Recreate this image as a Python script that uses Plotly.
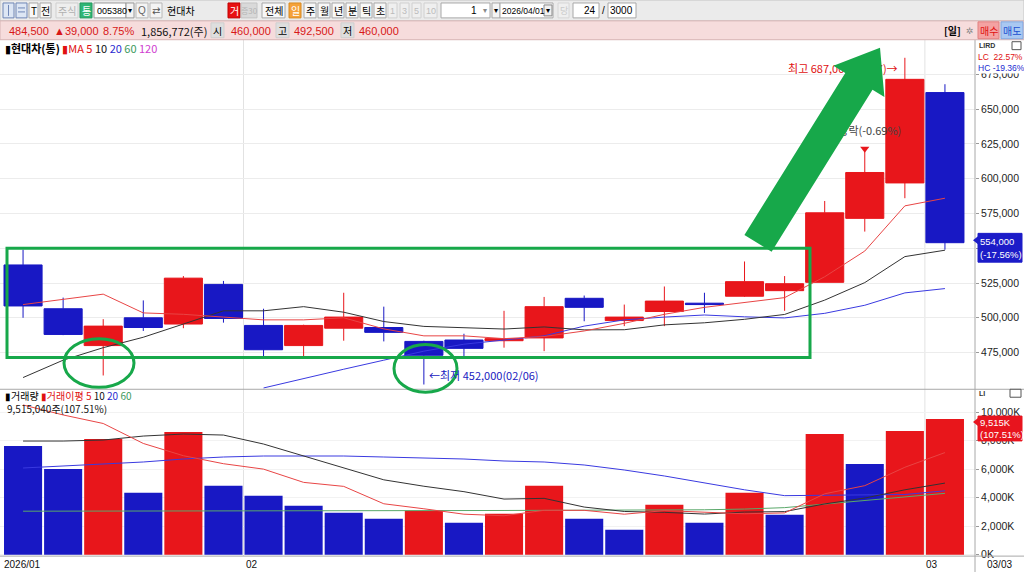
import plotly.graph_objects as go

W, H = 1024, 576
FONT = "Liberation Sans Narrow, Arial Narrow, Liberation Sans, Noto Sans CJK KR, sans-serif"
KFONT = "Noto Sans CJK KR, Liberation Sans, sans-serif"
RED = "#e8161b"
BLUE = "#1818c4"

# ---------------- data ----------------
dates = ["01/23", "01/26", "01/27", "01/28", "01/29", "01/30", "02/02", "02/03", "02/04", "02/05",
         "02/06", "02/09", "02/10", "02/11", "02/12", "02/13", "02/19", "02/20", "02/23", "02/24",
         "02/25", "02/26", "02/27", "03/03"]
opens = [538000, 506500, 480000, 500000, 495500, 524000, 494500, 480000, 492500, 493000,
         483000, 484000, 483500, 485500, 514000, 498000, 504500, 510500, 515500, 519500,
         525500, 571500, 597000, 662000]
highs = [549000, 514500, 499000, 512500, 530000, 526500, 506500, 495000, 518000, 508000,
         483500, 488500, 505000, 515000, 516000, 509500, 522500, 518000, 540500, 530000,
         584000, 621500, 687000, 668000]
lows = [500000, 487500, 458500, 490500, 492500, 496500, 472500, 472500, 483500, 483000,
        452000, 472500, 478500, 476000, 497500, 494000, 494000, 503500, 515000, 505000,
        525500, 562000, 586000, 549000]
closes = [508500, 488000, 494000, 493000, 528500, 499500, 477000, 494500, 500500, 489500,
          473000, 478000, 485000, 508000, 507500, 500500, 512000, 509500, 526000, 524500,
          575500, 604500, 671500, 554000]

ma5 = [509500, 513500, 517000, 503500, 502500, 500500, 498500, 498500, 500000, 492000,
       487000, 487000, 485000, 486500, 490500, 496000, 502500, 507500, 511000, 514500,
       529500, 548000, 580500, 586000]
ma10 = [457000, 469500, 478500, 486000, 495500, 505000, 505000, 508000, 504000, 497300,
        493800, 492800, 491900, 493400, 491300, 491400, 494900, 496400, 498900, 502400,
        512700, 525300, 544000, 548600]
ma20 = [None, None, None, None, None, None, 449500, 456500, 463000, 469500,
        476000, 481000, 484000, 487000, 494000, 498500, 500500, 502000, 500700, 499900,
        503200, 509000, 517900, 521000]

volumes = [7620000, 6010000, 8110000, 4340000, 8600000, 4830000, 4130000, 3430000, 2940000, 2520000,
           3080000, 2240000, 2870000, 4830000, 2520000, 1750000, 3500000, 2240000, 4340000, 2800000,
           8460000, 6360000, 8670000, 9515040]
vol_dir = ["down", "down", "up", "down", "up", "down", "down", "down", "down", "down",
           "up", "down", "up", "up", "down", "down", "up", "down", "up", "down",
           "up", "down", "up", "up"]
vma5 = [10500000, 9800000, 9200000, 7800000, 6940000, 6380000, 6000000, 5070000, 4790000, 3570000,
        3220000, 2840000, 2730000, 3110000, 3110000, 2840000, 3090000, 2970000, 2870000, 2930000,
        4270000, 4840000, 6130000, 7160000]
vma10 = [7970000, 7970000, 8040000, 8320000, 8460000, 8390000, 7760000, 6920000, 6080000, 5250000,
         4800000, 4420000, 3900000, 3950000, 3340000, 3030000, 2970000, 2850000, 2990000, 3020000,
         3560000, 3970000, 4550000, 5020000]
vma20 = [6080000, 6220000, 6360000, 6500000, 6710000, 6850000, 6920000, 6920000, 6920000, 6850000,
         6780000, 6710000, 6570000, 6500000, 6290000, 5940000, 5520000, 5030000, 4550000, 4140000,
         4180000, 4190000, 4220000, 4480000]
vma60 = [3050000, 3050000, 3060000, 3060000, 3070000, 3080000, 3080000, 3090000, 3090000, 3090000,
         3100000, 3100000, 3100000, 3110000, 3110000, 3120000, 3130000, 3150000, 3200000, 3300000,
         3550000, 3800000, 4050000, 4300000]

price_ticks = [475000, 500000, 525000, 550000, 575000, 600000, 625000, 650000, 675000]
price_hidden = [550000]          # label covered by the current-price box
vol_ticks = [0, 2000000, 4000000, 6000000, 8000000, 10000000]

# ---------------- helpers ----------------
def P(x):
    return x / W


def Q(y):
    return 1 - y / H


shapes = []
annots = []


def rect(x0, y0, x1, y1, fill=None, line=None, lw=1, layer="above"):
    shapes.append(dict(type="rect", xref="paper", yref="paper", x0=P(x0), x1=P(x1), y0=Q(y1), y1=Q(y0),
                       fillcolor=fill or "rgba(0,0,0,0)",
                       line=dict(color=line or "rgba(0,0,0,0)", width=lw if line else 0), layer=layer))


def hline(x0, x1, y, color="#b0b0b0", w=1):
    shapes.append(dict(type="line", xref="paper", yref="paper", x0=P(x0), x1=P(x1), y0=Q(y), y1=Q(y),
                       line=dict(color=color, width=w), layer="above"))


def vline(x, y0, y1, color="#b0b0b0", w=1):
    shapes.append(dict(type="line", xref="paper", yref="paper", x0=P(x), x1=P(x), y0=Q(y0), y1=Q(y1),
                       line=dict(color=color, width=w), layer="above"))


def txt(x, y, s, color="#000", size=11, anchor="left", family=FONT, bg=None):
    d = dict(xref="paper", yref="paper", x=P(x), y=Q(y), text=s, showarrow=False, xanchor=anchor,
             yanchor="middle", font=dict(color=color, size=size, family=family), borderpad=0)
    if bg:
        d["bgcolor"] = bg
    annots.append(d)


def poly(pts, fill, layer="above"):
    path = "M " + " L ".join(f"{P(x):.5f},{Q(y):.5f}" for x, y in pts) + " Z"
    shapes.append(dict(type="path", xref="paper", yref="paper", path=path, fillcolor=fill,
                       line=dict(width=0), layer=layer))


# ---------------- traces ----------------
fig = go.Figure()
fig.add_trace(go.Candlestick(
    x=dates, open=opens, high=highs, low=lows, close=closes, xaxis="x", yaxis="y",
    increasing=dict(line=dict(color=RED, width=1), fillcolor=RED),
    decreasing=dict(line=dict(color=BLUE, width=1), fillcolor=BLUE),
    whiskerwidth=0, hoverinfo="skip", showlegend=False))
fig.add_trace(go.Scatter(x=dates, y=ma20, mode="lines", line=dict(color="#3a3ae0", width=1),
                         xaxis="x", yaxis="y", hoverinfo="skip", showlegend=False))
fig.add_trace(go.Scatter(x=dates, y=ma10, mode="lines", line=dict(color="#333333", width=1),
                         xaxis="x", yaxis="y", hoverinfo="skip", showlegend=False))
fig.add_trace(go.Scatter(x=dates, y=ma5, mode="lines", line=dict(color="#e84545", width=1),
                         xaxis="x", yaxis="y", hoverinfo="skip", showlegend=False))

# text marks that sit under the green arrow
fig.add_trace(go.Scatter(x=[dates[22]], y=[highs[22]], mode="markers+text", text=["최고 687,000(02/27)→"],
                         textposition="bottom left",
                         marker=dict(size=10, color="rgba(0,0,0,0)"),
                         textfont=dict(color="#e01010", size=11, family=KFONT),
                         xaxis="x", yaxis="y", hoverinfo="skip", showlegend=False))
fig.add_trace(go.Scatter(x=[dates[21]], y=[highs[21]], mode="markers",
                         marker=dict(symbol="triangle-down", size=8, color=RED),
                         xaxis="x", yaxis="y", hoverinfo="skip", showlegend=False))
fig.add_trace(go.Scatter(x=[dates[21]], y=[highs[21]], mode="markers+text", text=["배당락(-0.69%)"],
                         textposition="top center",
                         marker=dict(size=16, color="rgba(0,0,0,0)"),
                         textfont=dict(color="#444", size=11, family=KFONT),
                         xaxis="x", yaxis="y", hoverinfo="skip", showlegend=False))

fig.add_trace(go.Bar(x=dates, y=volumes, width=0.95,
                     marker=dict(color=[RED if d == "up" else BLUE for d in vol_dir], line=dict(width=0)),
                     xaxis="x2", yaxis="y2", hoverinfo="skip", showlegend=False))
fig.add_trace(go.Scatter(x=dates, y=vma60, mode="lines", line=dict(color="#5aa86a", width=1),
                         xaxis="x2", yaxis="y2", hoverinfo="skip", showlegend=False))
fig.add_trace(go.Scatter(x=dates, y=vma20, mode="lines", line=dict(color="#3a3ae0", width=1),
                         xaxis="x2", yaxis="y2", hoverinfo="skip", showlegend=False))
fig.add_trace(go.Scatter(x=dates, y=vma10, mode="lines", line=dict(color="#333333", width=1),
                         xaxis="x2", yaxis="y2", hoverinfo="skip", showlegend=False))
fig.add_trace(go.Scatter(x=dates, y=vma5, mode="lines", line=dict(color="#e84545", width=1),
                         xaxis="x2", yaxis="y2", hoverinfo="skip", showlegend=False))

# ---------------- chrome ----------------
XR = 975  # right edge of plot area (px)

# month separators
for xv in [5.5, 22.5]:
    shapes.append(dict(type="line", xref="x", yref="paper", x0=xv, x1=xv, y0=Q(560), y1=Q(40),
                       line=dict(color="#e2e2e2", width=1), layer="below"))

# panel lines
hline(0, W, 392, "#a8a8a8")
hline(0, W, 560, "#a8a8a8")
vline(XR, 40, 576, "#a8a8a8")

# toolbar
rect(0, 0, W, 21, fill="#ebebeb", line="#c4c4c4")
rect(3, 3, 14, 18, fill="#dde6f4", line="#6f86b6")
rect(16, 3, 27, 18, fill="#dde6f4", line="#6f86b6")
vline(8.5, 5, 16, "#6f86b6")
hline(18, 25, 8, "#6f86b6")
hline(18, 25, 12, "#6f86b6")
for (a, b, s) in [(29, 38, "T"), (40, 51, "전")]:
    rect(a, 3, b, 18, fill="#f8f8f8", line="#a8a8a8")
    txt((a + b) / 2, 11, s, size=10, anchor="center", family=KFONT)
rect(56, 3, 78, 18, fill="#eeeeee", line="#cfcfcf")
txt(67, 11, "주식", color="#b0b0b0", size=10, anchor="center", family=KFONT)
rect(80, 3, 92, 18, fill="#2fb574", line="#229a5e")
txt(86, 11, "통", color="#ffffff", size=10, anchor="center", family=KFONT)
rect(94, 3, 126, 18, fill="#ffffff", line="#9a9a9a")
txt(96, 11, "005380", size=9)
rect(126, 3, 134, 18, fill="#f4f4f4", line="#9a9a9a")
txt(130, 11, "▾", size=8, anchor="center")
rect(136, 3, 148, 18, fill="#f4f4f4", line="#b8b8b8")
txt(142, 11, "Q", color="#666", size=10, anchor="center")
rect(150, 3, 162, 18, fill="#f4f4f4", line="#b8b8b8")
txt(156, 11, "⇄", color="#555", size=10, anchor="center", family="DejaVu Sans")
txt(166, 11, "현대차", size=10, family=KFONT)
rect(228, 3, 240, 18, fill="#e81010", line="#c00000")
txt(234, 11, "거", color="#ffffff", size=10, anchor="center", family=KFONT)
rect(241, 3, 257, 18, fill="#d9d9d9", line="#c4c4c4")
txt(249, 11, "증30", color="#b4b4b4", size=8, anchor="center", family=KFONT)
rect(262, 3, 285, 18, fill="#f8f8f8", line="#a8a8a8")
txt(273.5, 11, "전체", size=10, anchor="center", family=KFONT)
rect(289, 3, 301, 18, fill="#f5a23a", line="#d88a20")
txt(295, 11, "일", color="#ffffff", size=10, anchor="center", family=KFONT)
for i, s in enumerate(["주", "월", "년", "분", "틱", "초"]):
    a = 304 + i * 14
    rect(a, 3, a + 12, 18, fill="#f8f8f8", line="#a8a8a8")
    txt(a + 6, 11, s, size=10, anchor="center", family=KFONT)
for (a, b, s) in [(388, 397, "1"), (400, 409, "3"), (412, 421, "5"), (424, 437, "10")]:
    rect(a, 3, b, 18, fill="#efefef", line="#d0d0d0")
    txt((a + b) / 2, 11, s, color="#bbbbbb", size=9, anchor="center")
rect(441, 3, 490, 18, fill="#ffffff", line="#a8a8a8")
txt(478, 11, "1", size=10, anchor="right")
txt(485, 11, "▾", color="#888", size=8, anchor="center")
rect(492, 3, 500, 18, fill="#f4f4f4", line="#a8a8a8")
txt(496, 11, "▾", size=8, anchor="center")
rect(500, 3, 553, 18, fill="#ffffff", line="#a8a8a8")
txt(501, 11, "2026/04/01", size=8.5)
rect(544, 5, 552, 16, fill="#f0f0f0", line="#888")
txt(548, 11, "▾", size=8, anchor="center")
rect(558, 3, 569, 18, fill="#efefef", line="#d6d6d6")
txt(563.5, 11, "당", color="#c8c8c8", size=9, anchor="center", family=KFONT)
rect(573, 3, 599, 18, fill="#ffffff", line="#a8a8a8")
txt(597, 11, "24", size=10, anchor="right")
txt(603, 11, "/", size=10, anchor="center")
rect(608, 3, 636, 18, fill="#ffffff", line="#a8a8a8")
txt(634, 11, "3000", size=10, anchor="right")

# info row
rect(0, 21, W, 40, fill="#f6dcdc", line="#d6b4b4")
txt(8, 31, "484,500", color="#d81818", size=11)
txt(53, 31, "▲39,000", color="#d81818", size=11)
txt(102, 31, "8.75%", color="#d81818", size=11)
txt(140, 31, "1,856,772(주)", color="#111", size=11, family=KFONT)
rect(211, 23, 224, 38, fill="#dedede", line="#cfcfcf")
txt(217.5, 31, "시", size=10, anchor="center", family=KFONT)
txt(230, 31, "460,000", color="#d81818", size=11)
rect(276, 23, 289, 38, fill="#dedede", line="#cfcfcf")
txt(282.5, 31, "고", size=10, anchor="center", family=KFONT)
txt(293, 31, "492,500", color="#d81818", size=11)
rect(341, 23, 354, 38, fill="#dedede", line="#cfcfcf")
txt(347.5, 31, "저", size=10, anchor="center", family=KFONT)
txt(358, 31, "460,000", color="#d81818", size=11)
txt(943, 31, "<b>[일]</b>", size=10, family=KFONT)
txt(970, 31, "✲", color="#888", size=9, anchor="center", family="DejaVu Sans")
rect(978, 22, 999, 39, fill="#f4a2a2", line="#e08080")
txt(988.5, 31, "매수", color="#e01010", size=10, anchor="center", family=KFONT)
rect(1001, 22, 1023, 39, fill="#a9c8f2", line="#80a8e0")
txt(1012, 31, "매도", color="#1a4fd0", size=10, anchor="center", family=KFONT)

# legends inside panels
txt(4, 48, '<span style="color:#000">▮</span><b>현대차(통)</b> '
           '<span style="color:#e01010">▮MA 5</span> <span style="color:#111">10</span> '
           '<span style="color:#2a2ad0">20</span> <span style="color:#3c9a5c">60</span> '
           '<span style="color:#d040d0">120</span>', size=11, family=KFONT)
txt(4, 398, '<span style="color:#000">▮거래량</span> '
            '<span style="color:#e01010">▮거래이평 5</span> <span style="color:#111">10</span> '
            '<span style="color:#2a2ad0">20</span> <span style="color:#3c9a5c">60</span>',
    size=10, family=KFONT)
txt(6, 411, "9,515,040주(107.51%)", color="#111", size=10, family=KFONT)

# right column labels
txt(978, 46, "<b>LIRD</b>", color="#333", size=7)
rect(1012, 42, 1021, 50, fill="#ffffff", line="#555")
txt(977, 57, "LC  22.57%", color="#e01010", size=8.5, bg="#ffffff")
txt(977, 68, "HC -19.36%", color="#1a2ad0", size=8.5, bg="#ffffff")
txt(978, 396, "<b>LI</b>", color="#333", size=7)
rect(1010, 392, 1021, 400, fill="#ffffff", line="#555")

# current price box
rect(978, 235, 1022, 264, fill="#1c1cc8", line="#1c1cc8")
poly([(973, 242), (978, 238), (978, 246)], "#1c1cc8")
txt(979, 243, "554,000", color="#ffffff", size=9.5)
txt(979, 256, "(-17.56%)", color="#ffffff", size=9.5)
# current volume box
rect(978, 419, 1022, 444, fill="#e8141e", line="#e8141e")
poly([(973, 425), (978, 421), (978, 429)], "#e8141e")
txt(979, 425, "9,515K", color="#ffffff", size=9.5)
txt(979, 438, "(107.51%)", color="#ffffff", size=9.5)

# x labels
txt(3, 568, "2026/01", color="#111", size=10)
txt(245, 568, "02", color="#111", size=10)
txt(925, 568, "03", color="#111", size=10)
txt(986, 568, "03/03", color="#111", size=10)

# lowest price label
annots.append(dict(x=dates[10], y=lows[10], xref="x", yref="y", text="←최저 452,000(02/06)",
                   showarrow=False, xanchor="left", yanchor="bottom", xshift=3, yshift=0,
                   font=dict(color="#2020c0", size=11, family=KFONT)))

# green annotations
G = "#17a84a"
rect(7, 250, 810, 360, line=G, lw=3)
shapes.append(dict(type="circle", xref="paper", yref="paper", x0=P(64), x1=P(134), y0=Q(390), y1=Q(341),
                   line=dict(color=G, width=3), layer="above"))
shapes.append(dict(type="circle", xref="paper", yref="paper", x0=P(394), x1=P(457), y0=Q(395), y1=Q(347),
                   line=dict(color=G, width=3), layer="above"))
poly([(744.4, 236.6), (845.3, 73.6), (833.4, 66.2), (880, 48), (884.4, 97.8), (872.5, 90.4),
      (771.6, 253.4)], G)

# ---------------- layout ----------------
XD = XR / W
fig.update_layout(
    width=W, height=H, margin=dict(l=0, r=0, t=0, b=0),
    paper_bgcolor="#ffffff", plot_bgcolor="#ffffff",
    boxgap=0.05, boxgroupgap=0, bargap=0.05,
    showlegend=False, hovermode=False,
    shapes=shapes, annotations=annots,
    xaxis=dict(domain=[0, XD], range=[-0.575, 23.75], type="category", anchor="y",
               showticklabels=False, showgrid=False, zeroline=False, rangeslider=dict(visible=False),
               fixedrange=True),
    xaxis2=dict(domain=[0, XD], range=[-0.575, 23.75], type="category", anchor="y2", matches="x",
                showticklabels=False, showgrid=False, zeroline=False, fixedrange=True),
    yaxis=dict(domain=[Q(392), Q(40)], range=[448571, 700000], side="right", anchor="x",
               tickvals=price_ticks,
               ticktext=["" if v in price_hidden else f"{v:,}" for v in price_ticks],
               gridcolor="#ececec", showline=False, ticks="outside", ticklen=3, tickcolor="#9a9a9a",
               tickfont=dict(size=10.5, color="#222", family=FONT), zeroline=False, fixedrange=True),
    yaxis2=dict(domain=[Q(560), Q(392)], range=[-100000, 11600000], side="right", anchor="x2",
                tickvals=vol_ticks, ticktext=[f"{v // 1000:,}K" for v in vol_ticks],
                gridcolor="#f2f2f2", showline=False, ticks="outside", ticklen=3, tickcolor="#9a9a9a",
                tickfont=dict(size=10.5, color="#222", family=FONT), zeroline=False, fixedrange=True),
)

fig.write_html("out.html", config={"displayModeBar": False},
               post_script="document.body.style.margin='0';document.body.style.padding='0';"
                           "document.documentElement.style.overflow='hidden';")
